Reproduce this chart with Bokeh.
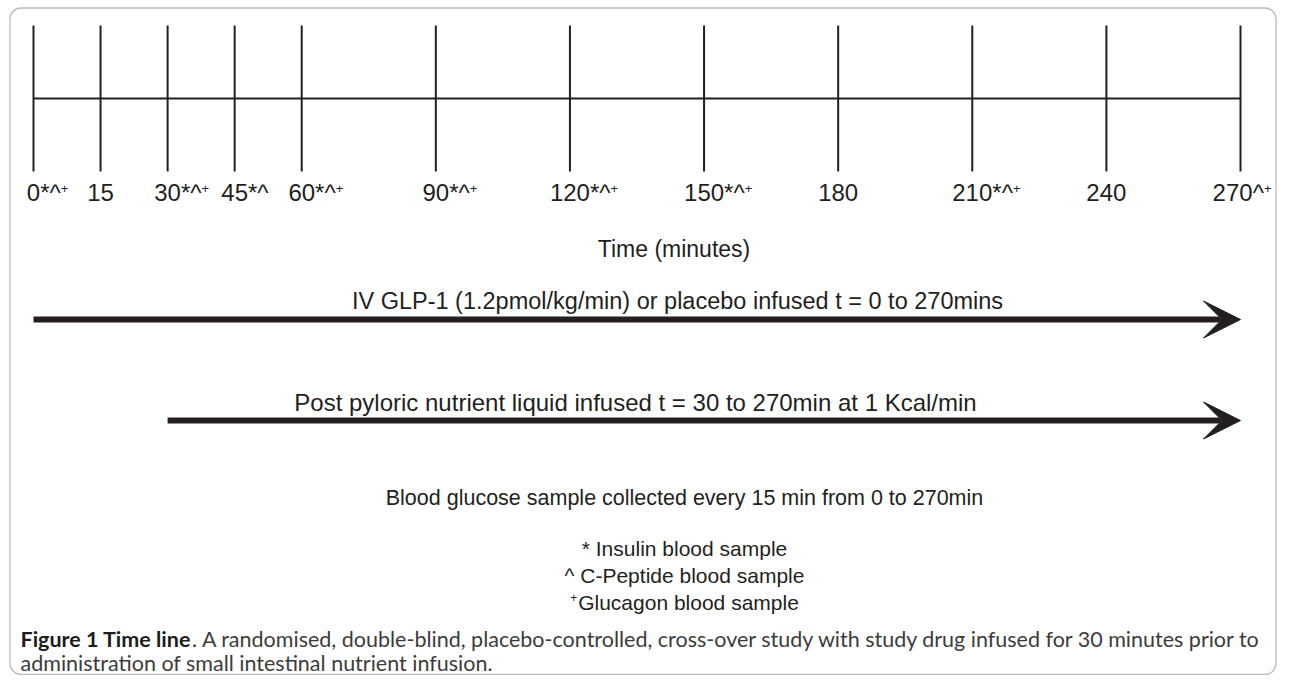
from bokeh.plotting import figure
from bokeh.models import Range1d, Arrow, VeeHead, BoxAnnotation, ColumnDataSource
from bokeh.embed import file_html
from bokeh.resources import INLINE
from bokeh.core.properties import value

# ---------------- data ----------------
tick_minutes = [0, 15, 30, 45, 60, 90, 120, 150, 180, 210, 240, 270]
tick_numbers = ["0", "15", "30", "45", "60", "90", "120", "150", "180", "210", "240", "270"]
tick_markers = ["*^", "", "*^", "*^", "*^", "*^", "*^", "*^", "", "*^", "", "^"]
tick_glucagon = [True, False, True, False, True, True, True, True, False, True, False, True]
axis_title = "Time (minutes)"
glp1_start, glp1_end = 0, 270
glp1_text = "IV GLP-1 (1.2pmol/kg/min) or placebo infused t = 0 to 270mins"
nutrient_start, nutrient_end = 30, 270
nutrient_text = "Post pyloric nutrient liquid infused t = 30 to 270min at 1 Kcal/min"
glucose_text = "Blood glucose sample collected every 15 min from 0 to 270min"
legend_lines = ["* Insulin blood sample", "^ C-Peptide blood sample", "Glucagon blood sample"]
legend_plus = [False, False, True]
caption_bold = "Figure 1 Time line"
caption_line1 = ". A randomised, double-blind, placebo-controlled, cross-over study with study drug infused for 30 minutes prior to"
caption_line2 = "administration of small intestinal nutrient infusion."

# ---------------- layout ----------------
W, H = 1277, 675
x_first_px, x_last_px = 33, 1240
ppm = (x_last_px - x_first_px) / (tick_minutes[-1] - tick_minutes[0])


def X(sx):
    return (sx - x_first_px) / ppm


def Y(sy):
    return sy


INK = "#231f20"
FONT = value("Liberation Sans")

p = figure(width=W, height=H, output_backend="svg", toolbar_location=None,
           x_range=Range1d(X(0), X(W)), y_range=Range1d(H, 0),
           min_border=0, outline_line_color=None, background_fill_color="white")
p.axis.visible = False
p.grid.visible = False

# frame box
p.add_layout(BoxAnnotation(left=X(9.5), right=X(1275.5), top=Y(7.5), bottom=Y(674),
                           fill_alpha=0, line_color=INK, line_width=1.3, border_radius=11))

# timeline
p.segment(x0=tick_minutes, x1=tick_minutes, y0=[Y(25)] * len(tick_minutes),
          y1=[Y(171)] * len(tick_minutes), line_color=INK, line_width=2)
p.segment(x0=[tick_minutes[0]], x1=[tick_minutes[-1]], y0=[Y(98)], y1=[Y(98)],
          line_color=INK, line_width=2)

LBL = 24
PLUS = 13
dig = 0.556 * LBL
cw = {"*": 0.389 * LBL, "^": 0.469 * LBL}
right_limit = 1271  # keep the last label inside the frame
xo_lab, xo_plus = [], []
for t, n, m, g in zip(tick_minutes, tick_numbers, tick_markers, tick_glucagon):
    start = -len(n) * dig / 2
    plus_at = start + len(n) * dig + sum(cw[c] for c in m)
    end_px = x_first_px + t * ppm + plus_at + (0.584 * PLUS if g else 0)
    shift = min(0, right_limit - end_px)
    xo_lab.append(start + shift)
    xo_plus.append(plus_at + shift)

lab_src = ColumnDataSource(dict(
    x=tick_minutes,
    y=[Y(192)] * len(tick_minutes),
    text=[n + m for n, m in zip(tick_numbers, tick_markers)],
    xo=xo_lab,
))
p.text(x="x", y="y", text="text", x_offset="xo", source=lab_src, text_align="left",
       text_baseline="middle", text_font=FONT, text_font_size=f"{LBL}px", text_color=INK)

plus_x = [t for t, g in zip(tick_minutes, tick_glucagon) if g]
plus_xo = [o for o, g in zip(xo_plus, tick_glucagon) if g]
p.text(x=plus_x, y=[Y(188)] * len(plus_x), text=["+"] * len(plus_x), x_offset=plus_xo,
       text_align="left", text_baseline="middle", text_font=FONT,
       text_font_size=f"{PLUS}px", text_color=INK)

p.text(x=[X(673.5)], y=[Y(248)], text=[axis_title], text_align="center", text_baseline="middle",
       text_font=FONT, text_font_size="23px", text_color=INK)

# arrows
for (s, e, txt, ya, yt, xc, fs) in [(glp1_start, glp1_end, glp1_text, 319, 300.5, 677, "23.5px"),
                                    (nutrient_start, nutrient_end, nutrient_text, 420, 402, 635, "24px")]:
    p.add_layout(Arrow(x_start=s, x_end=e, y_start=Y(ya), y_end=Y(ya), line_color=INK,
                       line_width=6,
                       end=VeeHead(size=37, fill_color=INK, line_color=INK, line_width=1)))
    p.text(x=[X(xc)], y=[Y(yt)], text=[txt], text_align="center", text_baseline="middle",
           text_font=FONT, text_font_size=fs, text_color=INK)

p.text(x=[X(684)], y=[Y(497)], text=[glucose_text], text_align="center", text_baseline="middle",
       text_font=FONT, text_font_size="21.5px", text_color=INK)

leg_y = [548, 575, 602]
leg_x = [684, 684, 688]
p.text(x=[X(v) for v in leg_x], y=[Y(v) for v in leg_y], text=legend_lines, text_align="center",
       text_baseline="middle", text_font=FONT, text_font_size="21px", text_color=INK)
for xv, yv, txt, has in zip(leg_x, leg_y, legend_lines, legend_plus):
    if has:
        half = 10.505 * 21 / 2
        p.text(x=[X(xv)], y=[Y(yv - 5)], text=["+"], x_offset=[-half - 1], text_align="right",
               text_baseline="middle", text_font=FONT, text_font_size="12px", text_color=INK)

# caption
CAP = value("Lato")
CFS = 21.5
p.text(x=[X(20)], y=[Y(638)], text=[caption_bold], text_align="left", text_baseline="middle",
       text_font=CAP, text_font_style="bold", text_font_size=f"{CFS}px", text_color="#1d1d1b")
p.text(x=[X(20 + 175 * CFS / 22 + 0.5)], y=[Y(638)], text=[caption_line1], text_align="left",
       text_baseline="middle", text_font=CAP, text_font_size=f"{CFS}px", text_color="#3c3c3b")
p.text(x=[X(20)], y=[Y(662)], text=[caption_line2], text_align="left", text_baseline="middle",
       text_font=CAP, text_font_size=f"{CFS}px", text_color="#3c3c3b")

open("out.html", "w").write(file_html(p, INLINE))
